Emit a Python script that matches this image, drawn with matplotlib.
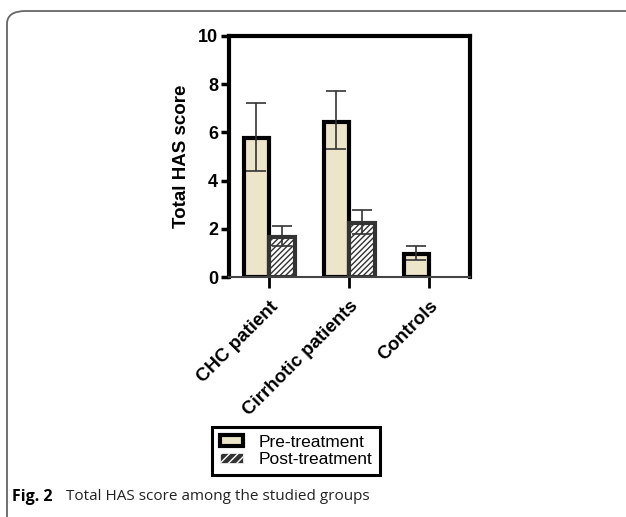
import matplotlib.pyplot as plt
import numpy as np
from matplotlib.patches import FancyBboxPatch, Patch

plt.rcParams['hatch.linewidth'] = 1.0

# data
groups = ['CHC patient', 'Cirrhotic patients', 'Controls']
pre_mean = [5.75, 6.45, 0.95]
pre_lo = [4.4, 5.3, 0.7]
pre_hi = [7.2, 7.7, 1.3]
post_mean = [1.65, 2.25, 0.0]
post_lo = [1.3, 1.8, 0.0]
post_hi = [2.1, 2.8, 0.0]
series = ['Pre-treatment', 'Post-treatment']

beige = '#ece5ca'
dark = '#333333'

fig = plt.figure(figsize=(6.26, 5.17), dpi=100)
ax = fig.add_axes([0.366, 0.4642, 0.385, 0.4662])

x = np.arange(len(groups))
w = 0.32
pre_err = [np.array(pre_mean) - np.array(pre_lo), np.array(pre_hi) - np.array(pre_mean)]
post_err = [np.array(post_mean) - np.array(post_lo), np.array(post_hi) - np.array(post_mean)]

ax.bar(x - w/2, pre_mean, w, color=beige, edgecolor='black', linewidth=3, zorder=2)
ax.errorbar(x - w/2, pre_mean, yerr=pre_err, fmt='none', ecolor=dark, elinewidth=1.2,
            capsize=7, capthick=1.2, zorder=3)
# controls had no post-treatment bar
ax.bar(x[:2] + w/2, post_mean[:2], w, color='white', edgecolor=dark, linewidth=3,
       hatch='//////', zorder=2)
ax.errorbar(x[:2] + w/2, post_mean[:2], yerr=[e[:2] for e in post_err], fmt='none',
            ecolor=dark, elinewidth=1.2, capsize=7, capthick=1.2, zorder=3)

ax.set_xlim(-0.5, 2.51)
ax.set_ylim(0, 10)
ax.set_yticks([0, 2, 4, 6, 8, 10])
ax.set_xticks(x)
ax.set_xticklabels(groups, rotation=45, ha='right', rotation_mode='anchor',
                   fontsize=13.5, fontweight='bold', family='Liberation Sans')
for lab in ax.get_yticklabels():
    lab.set_fontsize(13)
    lab.set_fontweight('bold')
    lab.set_family('Liberation Sans')
ax.tick_params(axis='x', length=8, width=2, pad=7)
ax.tick_params(axis='y', length=6, width=2.5, pad=2)
ax.set_ylabel('Total HAS score', fontsize=13.5, fontweight='bold',
              family='Liberation Sans', labelpad=6)

for s in ['left', 'top', 'right']:
    ax.spines[s].set_linewidth(3)
ax.spines['bottom'].set_linewidth(1.5)
ax.spines['bottom'].set_color('#444444')
ax.spines['bottom'].set_linestyle((0, (2, 1)))

pre_handle = Patch(facecolor=beige, edgecolor='black', linewidth=3, label=series[0])
try:
    post_handle = Patch(facecolor=dark, edgecolor=dark, linewidth=1.5, hatch='////',
                        hatchcolor='white', label=series[1])
except Exception:
    post_handle = Patch(facecolor=dark, edgecolor='white', linewidth=0.5, hatch='////',
                        label=series[1])
leg = fig.legend(handles=[pre_handle, post_handle], loc='center',
                 bbox_to_anchor=(296/626, 1 - 451/517),
                 fancybox=False, edgecolor='black', framealpha=1, handlelength=1.3,
                 handleheight=0.55, handletextpad=0.9, labelspacing=0.15,
                 borderpad=0.45, borderaxespad=0,
                 prop={'family': 'Liberation Sans', 'size': 12.5})
leg.get_frame().set_linewidth(2.2)

# rounded figure frame and caption
frame = FancyBboxPatch((7/626, -0.1), 1.2, 1 - 11/517 + 0.1, transform=fig.transFigure,
                       boxstyle='round,pad=0,rounding_size=0.03', facecolor='none',
                       edgecolor='#666666', linewidth=1.3, mutation_aspect=517/626)
fig.patches.append(frame)
fig.text(12/626, 1 - 497/517, 'Fig. 2', fontsize=11.5, fontweight='bold',
         family='Open Sans', va='center')
fig.text(66/626, 1 - 497/517, 'Total HAS score among the studied groups', fontsize=11,
         family='Open Sans', va='center', color='#222222')

fig.savefig('out.png', dpi=100)
